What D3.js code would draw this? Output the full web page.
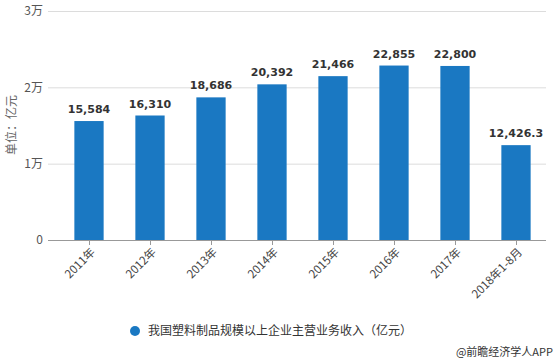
<!DOCTYPE html>
<html><head><meta charset="utf-8">
<script src="https://cdn.jsdelivr.net/npm/d3@7"></script>
<style>body{margin:0;background:#fff;}svg{display:block;font-family:"Noto Sans CJK SC","Noto Sans",sans-serif;}</style>
</head><body>
<svg id="c" width="556" height="363"></svg>
<script>
const categories = ["2011年","2012年","2013年","2014年","2015年","2016年","2017年","2018年1-8月"];
const values = [15584,16310,18686,20392,21466,22855,22800,12426.3];
const valueLabels = ["15,584","16,310","18,686","20,392","21,466","22,855","22,800","12,426.3"];
const yTicks = [0,10000,20000,30000];
const yTickLabels = ["0","1万","2万","3万"];
const seriesName = "我国塑料制品规模以上企业主营业务收入（亿元）";
const yTitle = "单位：亿元";
const source = "@前瞻经济学人APP";

const svg = d3.select("#c");
const color = "#1a78c2";
const x = d3.scaleBand().domain(categories).range([58.5, 546.5]).paddingInner(0.52).paddingOuter(0.26);
const y = d3.scaleLinear().domain([0,30000]).range([240, 11]);

// grid
svg.append("g").selectAll("line").data(yTicks.filter(d=>d>0)).join("line")
  .attr("x1",48).attr("x2",546).attr("y1",d=>y(d)+0.5).attr("y2",d=>y(d)+0.5)
  .attr("stroke","#dcdcdc").attr("stroke-width",1);
// y labels
svg.append("g").selectAll("text").data(yTicks).join("text")
  .attr("x",43).attr("y",d=>y(d)).attr("dy","0.35em").attr("text-anchor","end")
  .attr("font-size",12).attr("fill","#555").text((d,i)=>yTickLabels[i]);
// y title
svg.append("text").attr("transform","translate(12,125) rotate(-90)").attr("text-anchor","middle")
  .attr("dy","0.35em").attr("font-size",12).attr("fill","#666").text(yTitle);

// bars
svg.append("g").selectAll("rect").data(values).join("rect")
  .attr("x",(d,i)=>x(categories[i])).attr("width",x.bandwidth())
  .attr("y",d=>y(d)).attr("height",d=>y(0)-y(d)).attr("fill",color);
// value labels
svg.append("g").selectAll("text").data(values).join("text")
  .attr("x",(d,i)=>x(categories[i])+x.bandwidth()/2).attr("y",d=>y(d)-8)
  .attr("text-anchor","middle").attr("font-size",11).attr("font-weight","bold")
  .attr("font-family","'DejaVu Sans',sans-serif")
  .attr("fill","#333").text((d,i)=>valueLabels[i]);

// x axis
const xa = svg.append("g").attr("transform","translate(0,240)");
xa.append("line").attr("x1",48).attr("x2",546).attr("y1",0.5).attr("y2",0.5).attr("stroke","#999");
xa.selectAll(".tk").data(categories).join("line").attr("class","tk")
  .attr("x1",d=>x(d)+x.bandwidth()/2+0.5).attr("x2",d=>x(d)+x.bandwidth()/2+0.5)
  .attr("y1",0).attr("y2",5).attr("stroke","#999");
xa.selectAll("text").data(categories).join("text")
  .attr("transform",d=>`translate(${x(d)+x.bandwidth()/2+4},10) rotate(-45)`)
  .attr("text-anchor","end").attr("dy","0.35em").attr("font-size",11.5).attr("fill","#444").text(d=>d);

// legend
svg.append("circle").attr("cx",135).attr("cy",331).attr("r",5).attr("fill",color);
svg.append("text").attr("x",148).attr("y",331).attr("dy","0.35em").attr("font-size",12).attr("fill","#333").text(seriesName);
svg.append("text").attr("x",553).attr("y",352).attr("dy","0.35em").attr("text-anchor","end").attr("font-size",11).attr("fill","#333").text(source);
</script>
</body></html>
